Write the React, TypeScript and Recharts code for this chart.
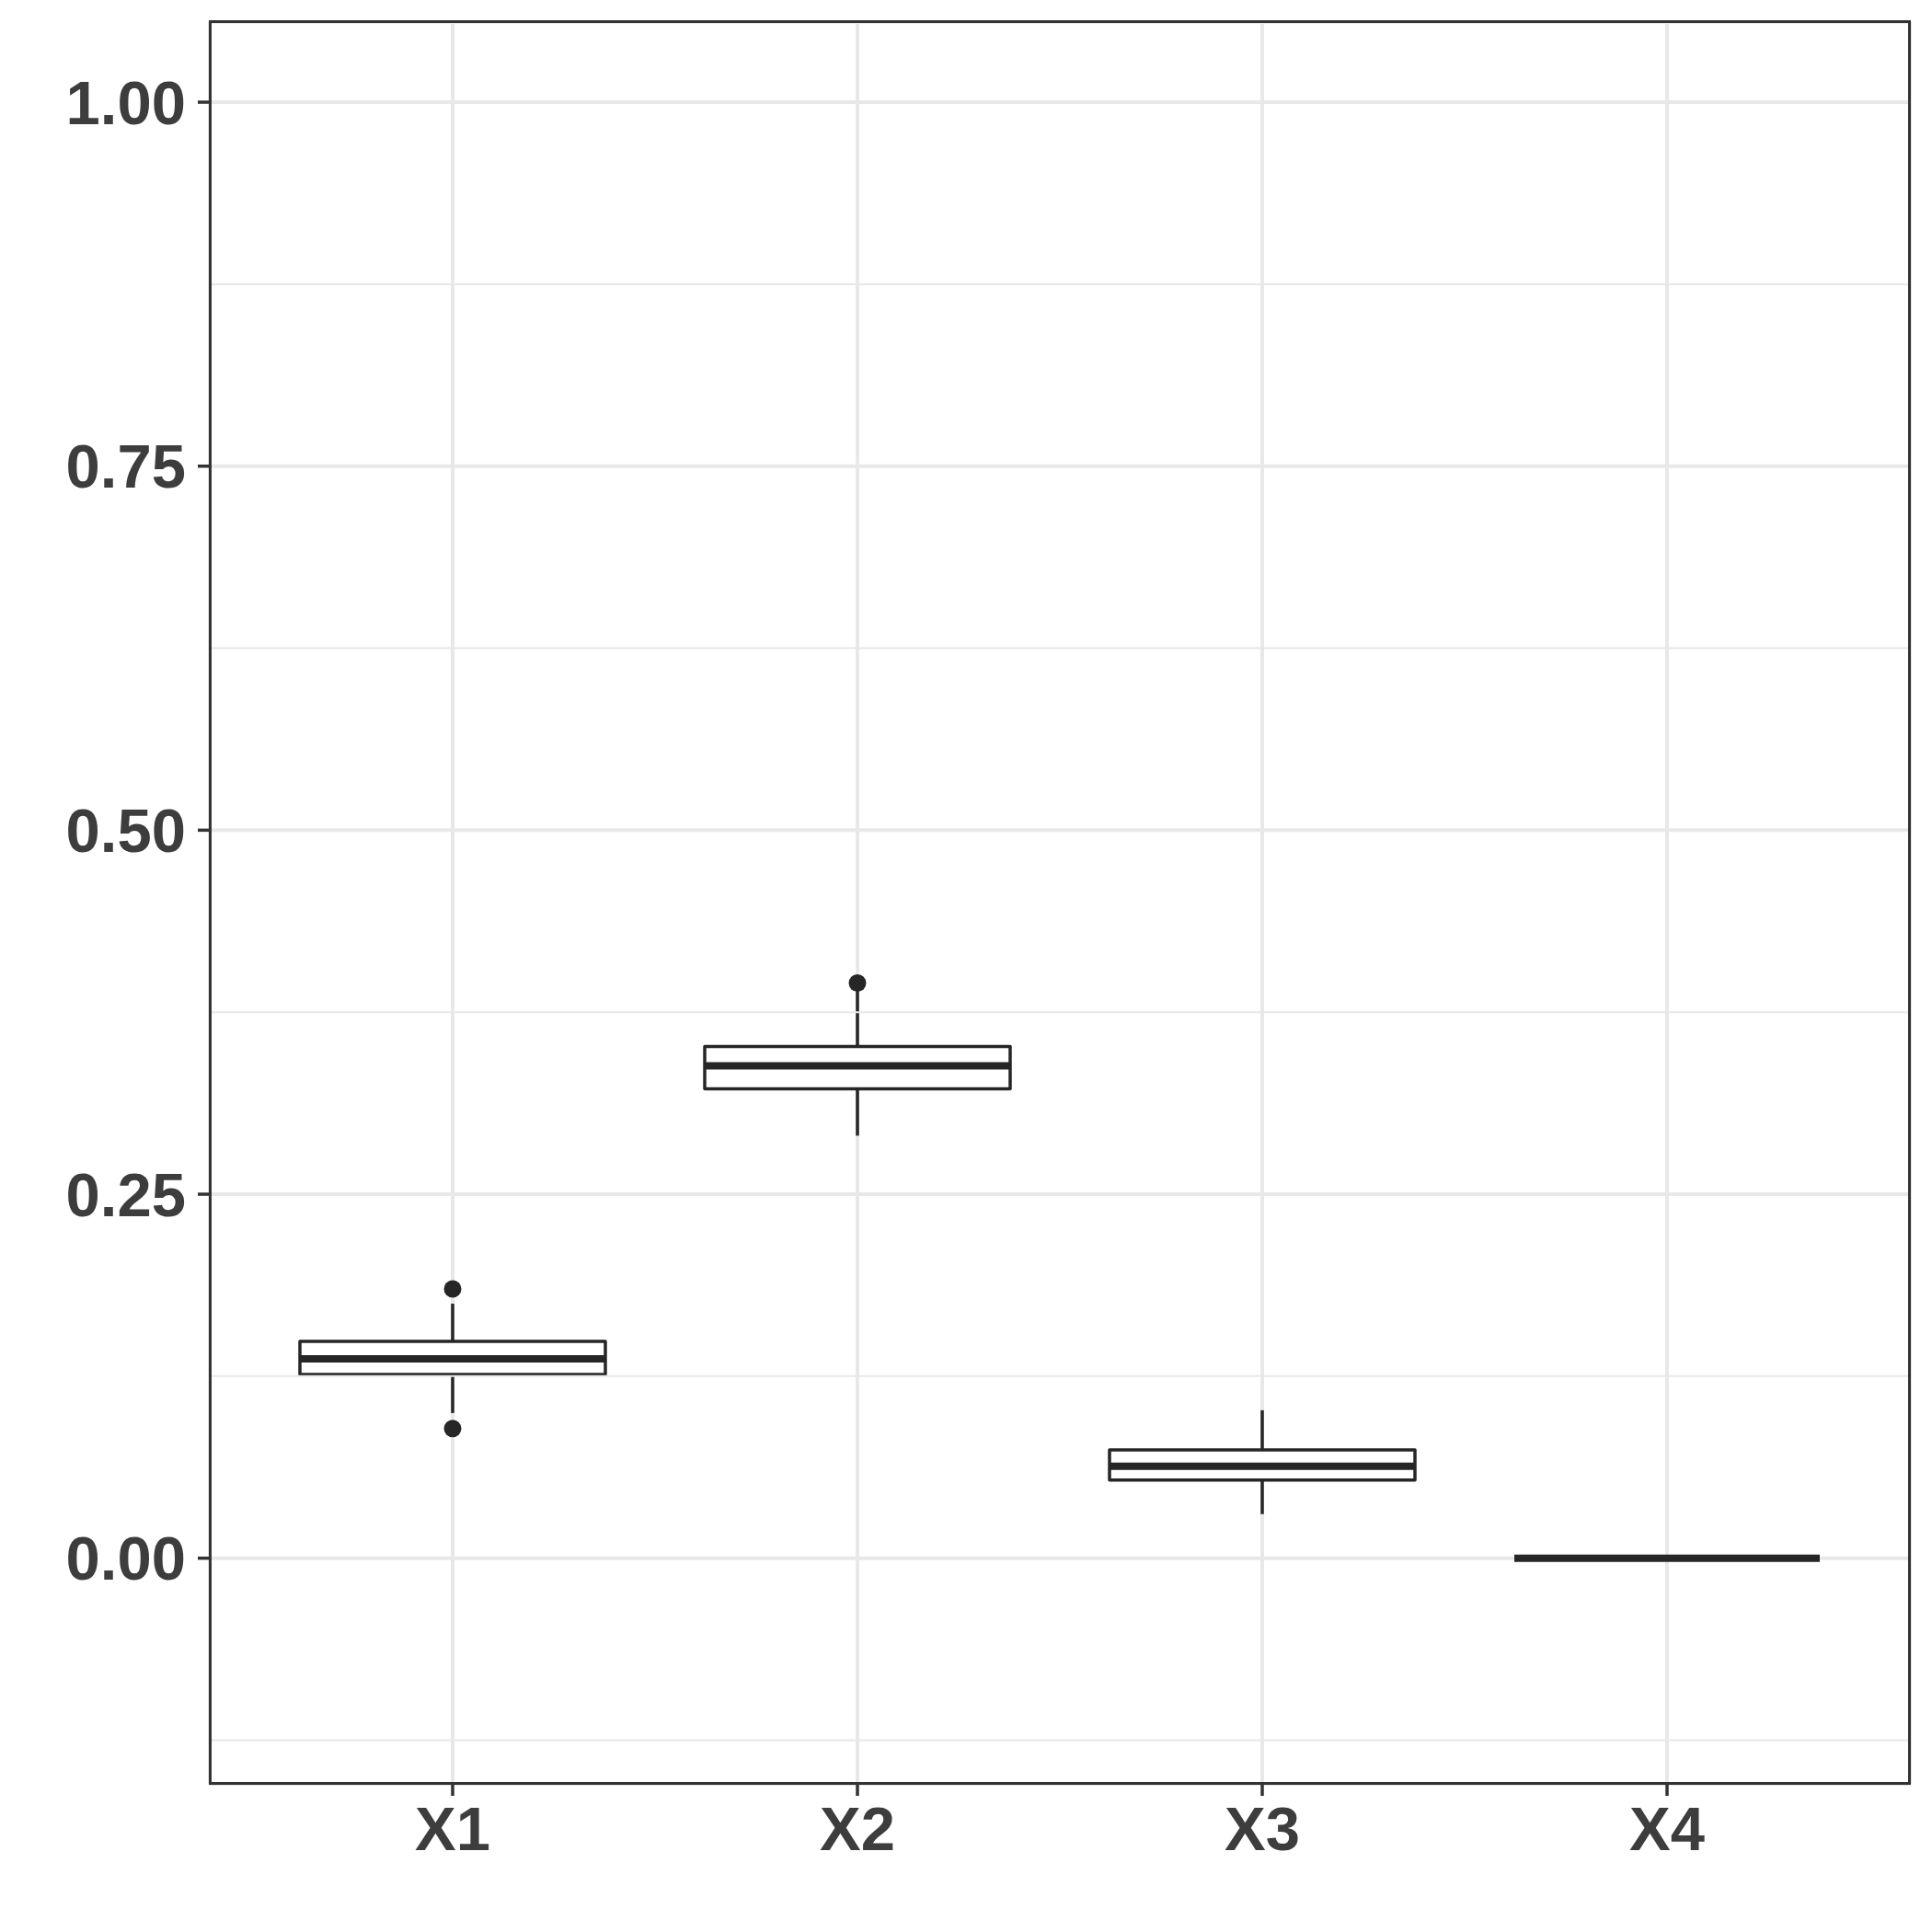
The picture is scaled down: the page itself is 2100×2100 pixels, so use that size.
import React from "react";
import { ComposedChart, Bar, XAxis, YAxis, CartesianGrid, ReferenceLine } from "recharts";

const categories = ["X1", "X2", "X3", "X4"];
const lowerWhisker = [0.0997, 0.2902, 0.0303, 0];
const q1 = [0.1262, 0.3224, 0.0536, 0];
const median = [0.1369, 0.3382, 0.0631, 0];
const q3 = [0.1489, 0.3514, 0.0744, 0];
const upperWhisker = [0.1748, 0.3899, 0.1016, 0];
const outliers = [[0.1849, 0.089], [0.395], [], []];

const yTicks = [0, 0.25, 0.5, 0.75, 1];
const minorTicks = [-0.125, 0.125, 0.375, 0.625, 0.875];

const data = categories.map((name, i) => ({
  name,
  // [0, 1] reference span: lets the shape map any value through the y scale
  unit: [0, 1],
  lo: lowerWhisker[i],
  q1: q1[i],
  med: median[i],
  q3: q3[i],
  hi: upperWhisker[i],
  out: outliers[i],
}));

const INK = "#262626";
const TEXT = "#3d3d3d";
const GRID = "#E8E8E8";
const FONT = "'Liberation Sans', Arial, sans-serif";

function BoxShape(props: any) {
  const { x, y, width, height, payload } = props;
  const py = (v: number) => y + height * (1 - v);
  const cx = x + width / 2;
  return (
    <g>
      <line x1={cx} x2={cx} y1={py(payload.q3)} y2={py(payload.hi)} stroke={INK} strokeWidth={3.5} />
      <line x1={cx} x2={cx} y1={py(payload.q1)} y2={py(payload.lo)} stroke={INK} strokeWidth={3.5} />
      <rect
        x={x}
        y={py(payload.q3)}
        width={width}
        height={Math.max(0, py(payload.q1) - py(payload.q3))}
        fill="#ffffff"
        stroke={INK}
        strokeWidth={3.5}
        strokeLinejoin="round"
      />
      <line x1={x} x2={x + width} y1={py(payload.med)} y2={py(payload.med)} stroke={INK} strokeWidth={8} />
      {payload.out.map((v: number, k: number) => (
        <circle key={k} cx={cx} cy={py(v)} r={9.5} fill={INK} />
      ))}
    </g>
  );
}

export default function App() {
  return (
    <div style={{ position: "absolute", left: 0, top: 0, width: 2100, height: 2100, background: "#fff" }}>
      <ComposedChart
        width={2100}
        height={2100}
        data={data}
        margin={{ top: 24, right: 24, left: 0, bottom: 0 }}
      >
        <CartesianGrid stroke={GRID} strokeWidth={4} />
        {minorTicks.map((v) => (
          <ReferenceLine key={v} y={v} stroke={GRID} strokeWidth={2} />
        ))}
        <XAxis
          dataKey="name"
          height={161}
          padding={{ left: 44, right: 44 }}
          axisLine={false}
          tickLine={{ stroke: "#333333", strokeWidth: 3.5 }}
          tickSize={13}
          tickMargin={11}
          tick={{ fontSize: 67, fontWeight: "bold", fill: TEXT, fontFamily: FONT }}
        />
        <YAxis
          type="number"
          width={228}
          domain={[-0.155, 1.055]}
          ticks={yTicks}
          tickFormatter={(v: number) => v.toFixed(2)}
          axisLine={false}
          tickLine={{ stroke: "#333333", strokeWidth: 3.5 }}
          tickSize={13}
          tickMargin={13}
          tick={{ fontSize: 67, fontWeight: "bold", fill: TEXT, fontFamily: FONT }}
        />
        <Bar dataKey="unit" barSize={332} shape={BoxShape} isAnimationActive={false} />
      </ComposedChart>
      <div
        style={{
          position: "absolute",
          left: 227,
          top: 22,
          width: 2077 - 227,
          height: 1940 - 22,
          border: "3px solid #333333",
          boxSizing: "border-box",
          pointerEvents: "none",
        }}
      />
    </div>
  );
}
